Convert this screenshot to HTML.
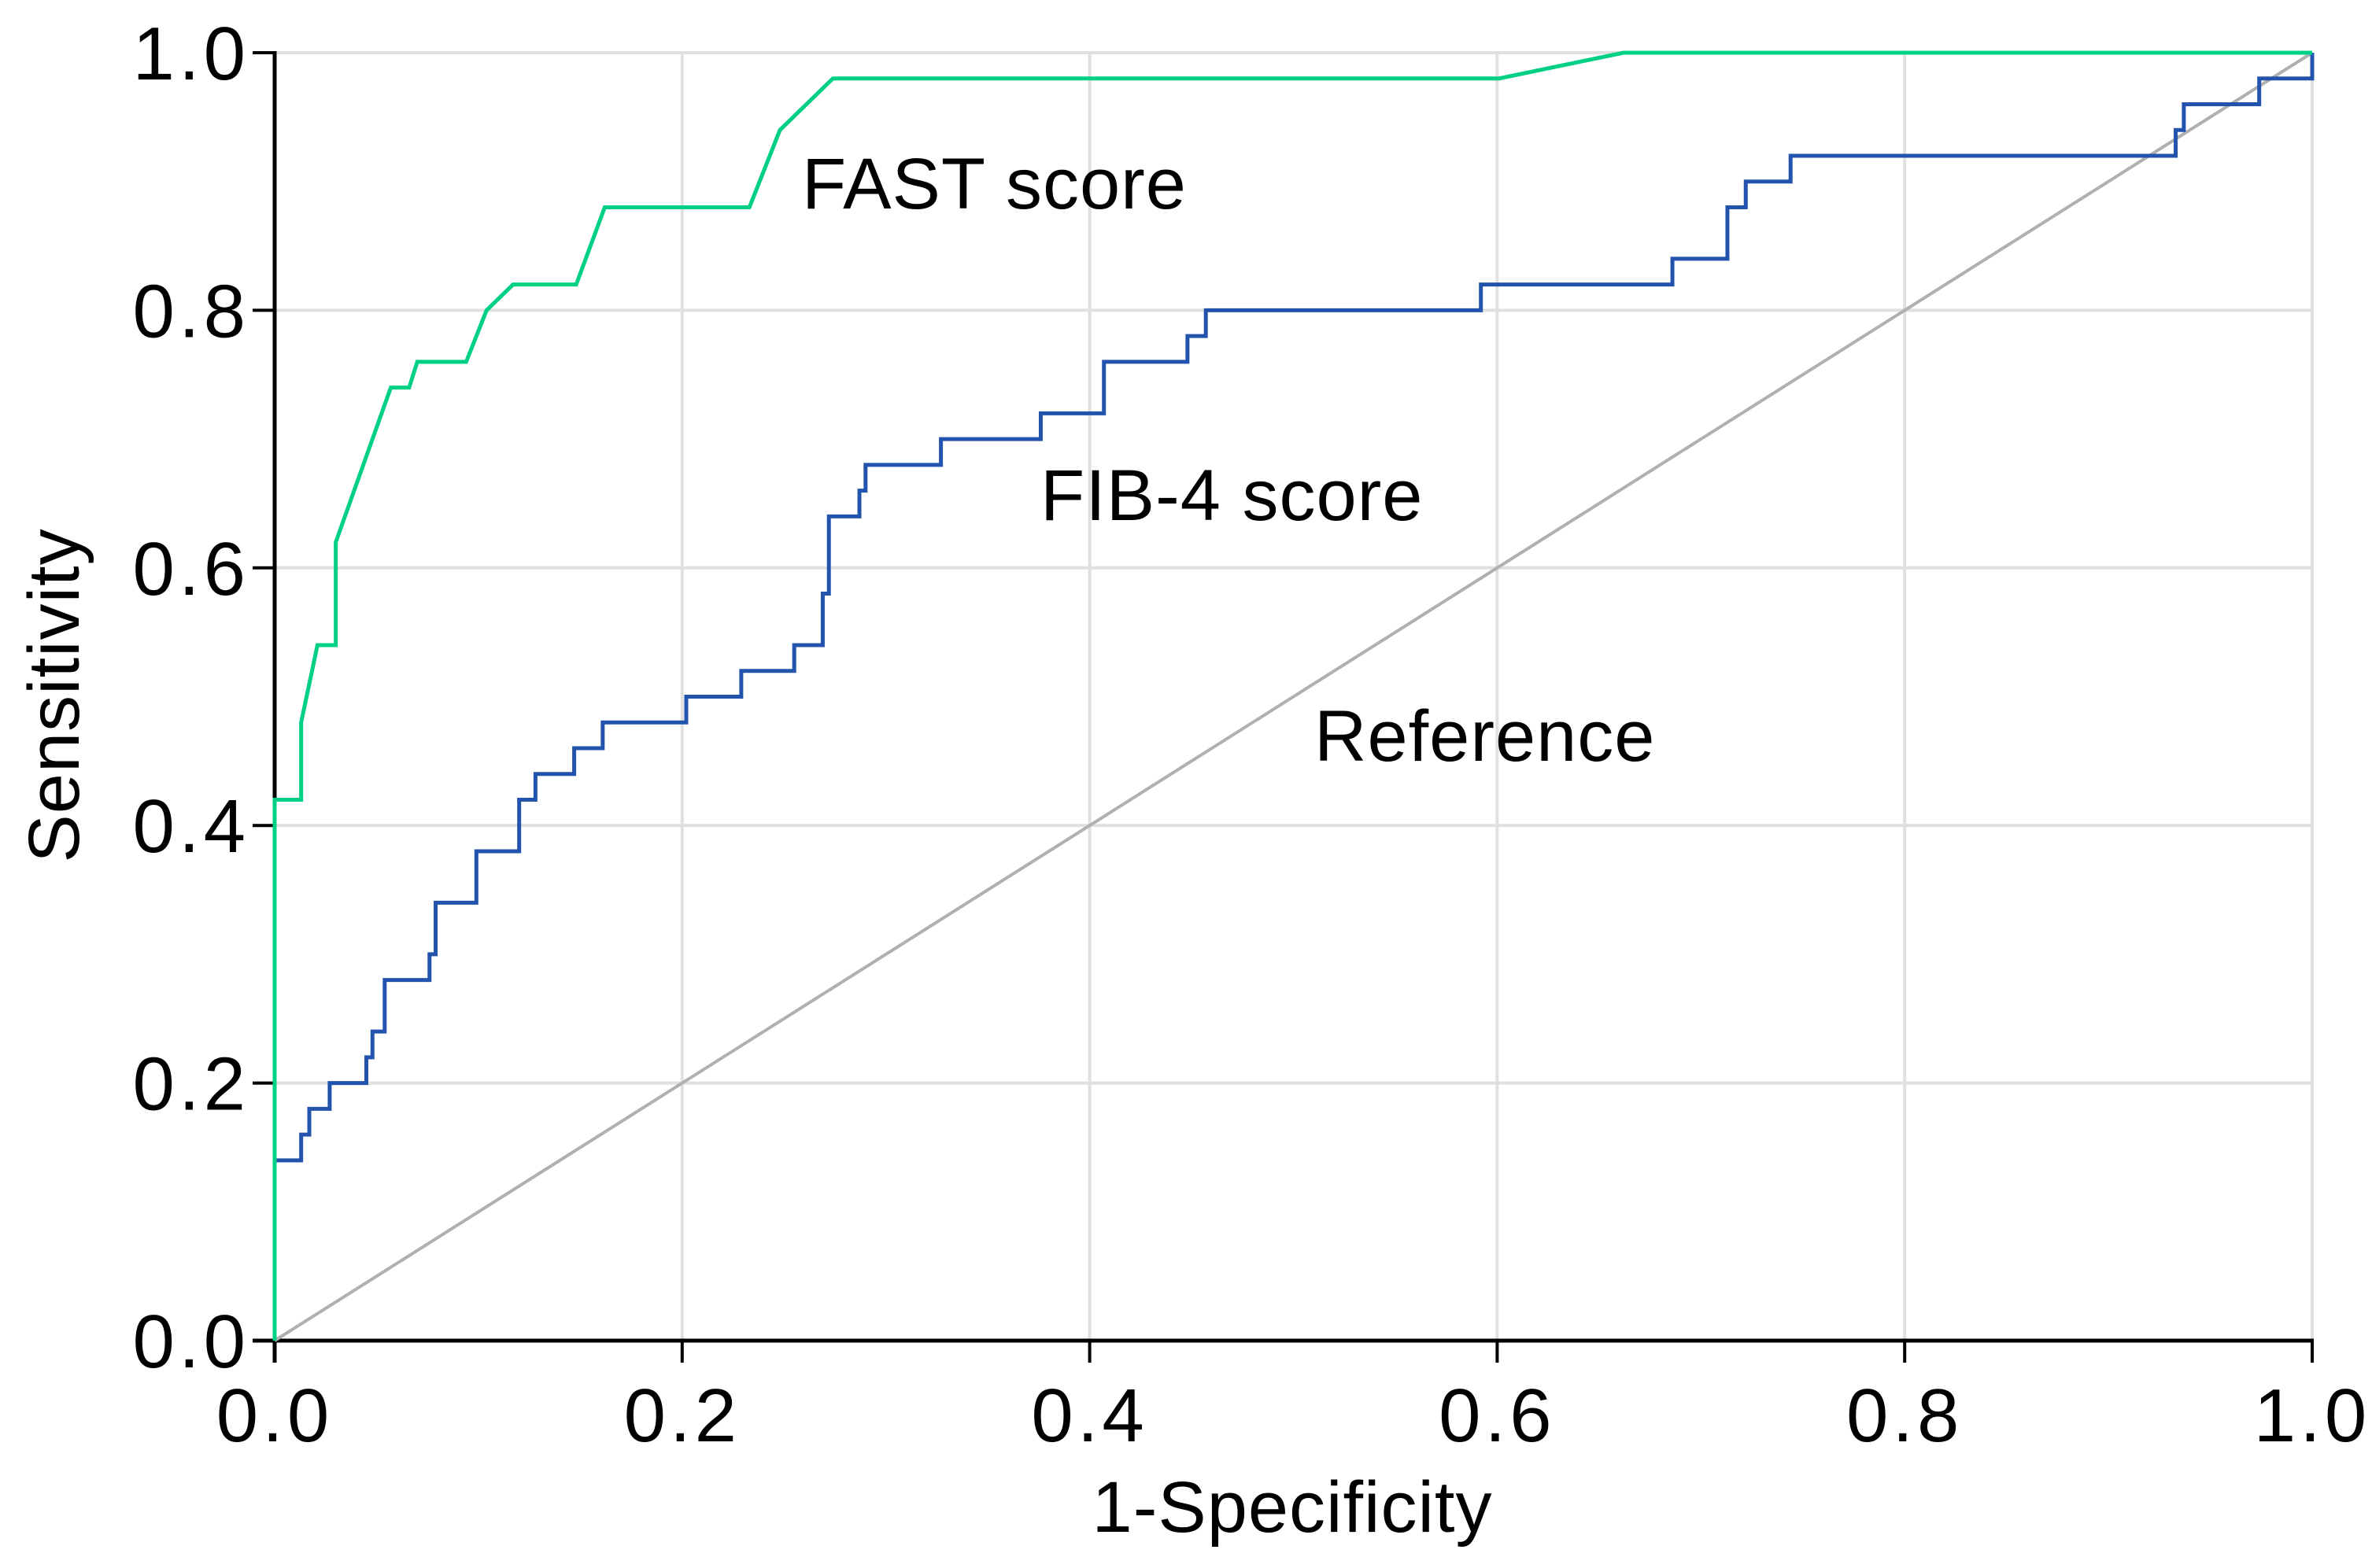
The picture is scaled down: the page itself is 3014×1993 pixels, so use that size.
<!DOCTYPE html>
<html><head><meta charset="utf-8"><style>
html,body{margin:0;padding:0;background:#fff;}
svg{display:block;font-family:"Liberation Sans",Arial,sans-serif;}
</style></head><body>
<svg id="chart" width="3014" height="1993" viewBox="0 0 3014 1993" xmlns="http://www.w3.org/2000/svg">
<g id="grid"></g><g id="axes"></g><g id="series"></g>
<text x="1019" y="265" font-size="92" letter-spacing="1">FAST score</text>
<text x="1322" y="661" font-size="92" letter-spacing="1">FIB-4 score</text>
<text x="1670" y="967" font-size="92" letter-spacing="1">Reference</text>
<text x="1642" y="1947" font-size="92" letter-spacing="1" text-anchor="middle">1-Specificity</text>
<text x="0" y="0" font-size="92" letter-spacing="1" text-anchor="middle" transform="translate(100,884) rotate(-90)">Sensitivity</text>
</svg>
<script>
const xTicks = [0, 0.2, 0.4, 0.6, 0.8, 1.0];
const yTicks = [0, 0.2, 0.4, 0.6, 0.8, 1.0];
const tickLabels = ["0.0","0.2","0.4","0.6","0.8","1.0"];
const fastX = [0,0,0.013,0.013,0.021,0.03,0.03,0.057,0.066,0.07,0.094,0.104,0.117,0.148,0.162,0.233,0.248,0.274,0.601,0.662,1.0];
const fastY = [0,0.42,0.42,0.48,0.54,0.54,0.62,0.74,0.74,0.76,0.76,0.80,0.82,0.82,0.88,0.88,0.94,0.98,0.98,1.0,1.0];
const fibStepX = [0,0.013,0.017,0.027,0.045,0.048,0.054,0.076,0.079,0.099,0.12,0.128,0.147,0.161,0.202,0.229,0.255,0.269,0.272,0.287,0.29,0.327,0.376,0.407,0.448,0.457,0.592,0.686,0.713,0.722,0.744,0.933,0.937,0.974,1.0];
const fibStepY = [0.14,0.16,0.18,0.20,0.22,0.24,0.28,0.30,0.34,0.38,0.42,0.44,0.46,0.48,0.50,0.52,0.54,0.58,0.64,0.66,0.68,0.70,0.72,0.76,0.78,0.80,0.82,0.84,0.88,0.90,0.92,0.94,0.96,0.98,1.0];
const refX = [0,1];
const refY = [0,1];

const X0=349, X1=2938, Y0=1704, Y1=67;
const sx = v => X0 + v*(X1-X0);
const sy = v => Y0 - v*(Y0-Y1);
const NS="http://www.w3.org/2000/svg";
function mk(tag, parent, attrs){const e=document.createElementNS(NS,tag);for(const k in attrs)e.setAttribute(k,attrs[k]);parent.appendChild(e);return e;}
const grid=document.getElementById('grid'), axes=document.getElementById('axes'), series=document.getElementById('series');

xTicks.forEach((t,i)=>{
  if(t>0){const g=mk('line',grid,{x1:sx(t),x2:sx(t),y1:Y1,y2:Y0,stroke:'#e0e0e0','stroke-width':4});
  
  }
  const tk=mk('line',axes,{x1:sx(t),x2:sx(t),y1:Y0,y2:Y0+28,stroke:'#000','stroke-width':4});
  
  
  const lb=mk('text',axes,{x:sx(t),y:1832,'font-size':96,'letter-spacing':5,'text-anchor':'middle'});
  lb.textContent=tickLabels[i];
  
  
});
yTicks.forEach((t,i)=>{
  if(t>0){const g=mk('line',grid,{x1:X0,x2:X1,y1:sy(t),y2:sy(t),stroke:'#e0e0e0','stroke-width':4});
  
  }
  const tk=mk('line',axes,{x1:X0-28,x2:X0,y1:sy(t),y2:sy(t),stroke:'#000','stroke-width':4});
  
  
  const lb=mk('text',axes,{x:317,y:sy(t)+34,'font-size':96,'letter-spacing':5,'text-anchor':'end'});
  lb.textContent=tickLabels[i];
  
  
});
const xa=mk('line',axes,{x1:X0-28,x2:X1+2,y1:Y0,y2:Y0,stroke:'#000','stroke-width':5});


const ya=mk('line',axes,{x1:X0,x2:X0,y1:Y1-2,y2:Y0+28,stroke:'#000','stroke-width':5});



const ref=mk('polyline',series,{points:refX.map((v,i)=>sx(v)+','+sy(refY[i])).join(' '),fill:'none',stroke:'#b0b0b0','stroke-width':4});



let pts=[[0,0]];
fibStepX.forEach((x,i)=>{const prevY=i===0?0:fibStepY[i-1];pts.push([x,prevY]);pts.push([x,fibStepY[i]]);});
const fib=mk('polyline',series,{points:pts.map(p=>sx(p[0])+','+sy(p[1])).join(' '),fill:'none',stroke:'#2253ad','stroke-width':5});



const fast=mk('polyline',series,{points:fastX.map((v,i)=>sx(v)+','+sy(fastY[i])).join(' '),fill:'none',stroke:'#00d084','stroke-width':5});


</script>
</body></html>
